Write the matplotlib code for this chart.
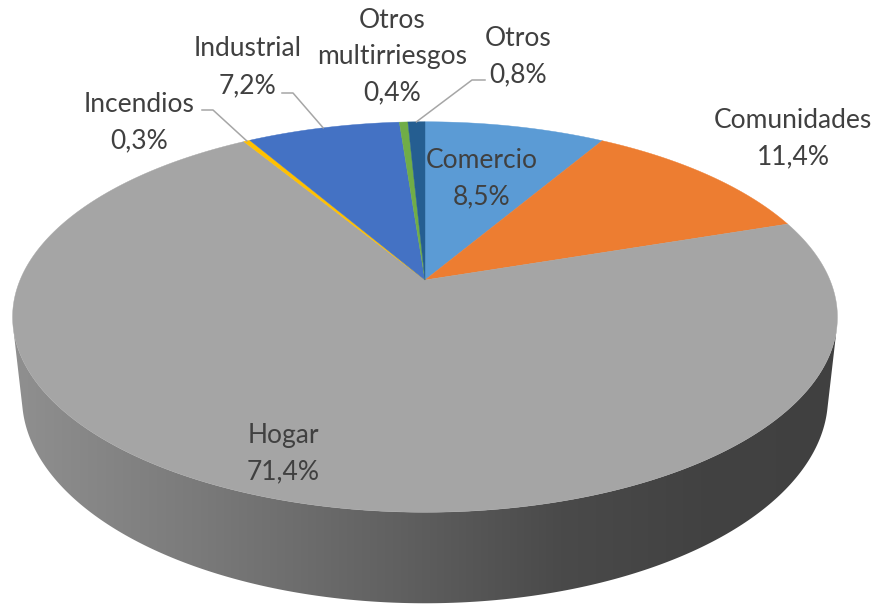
import numpy as np
import matplotlib.pyplot as plt
from matplotlib.patches import Polygon

# Data
labels = ["Comercio", "Comunidades", "Hogar", "Incendios", "Industrial",
          "Otros\nmultirriesgos", "Otros"]
shares = [8.5, 11.4, 71.4, 0.3, 7.2, 0.4, 0.8]
colors = ["#5B9BD5", "#ED7D31", "#A5A5A5", "#FFC000", "#4472C4",
          "#70AD47", "#255E91"]

# Label layout (pixels): centre of first line, and leader start/knee
label_pos = [(482, 160), (793, 120), (283, 435), (139, 104), (248, 49),
             (392, 20), (518, 38)]
leaders = {3: [(202, 110), (213, 110)],
           4: [(282, 93), (293, 93)],
           6: [(485, 80), (472, 80)]}

# Simple perspective camera
CX, CY = 425, 280
FOC = 1891.0
DIST = 4.67
ELEV = np.radians(27.7)
HEIGHT = 0.226
se, ce = np.sin(ELEV), np.cos(ELEV)


def proj(x, y, z):
    x = np.asarray(x, float)
    y = np.asarray(y, float)
    z = np.asarray(z, float) + 0 * x
    ry = y + DIST * ce
    rz = z - DIST * se
    depth = ry * ce - rz * se
    yc = ry * se + rz * ce
    return CX + FOC * x / depth, CY - FOC * yc / depth


fig = plt.figure(figsize=(8.78, 6.05), dpi=100)
ax = fig.add_axes([0, 0, 1, 1])
ax.set_xlim(0, 878)
ax.set_ylim(605, 0)
ax.axis("off")

# Side wall (only the front part is visible)
lim = np.arcsin(1 / (DIST * ce))
t = np.linspace(np.pi + lim, 2 * np.pi - lim, 300)
tx, ty = proj(np.cos(t), np.sin(t), 0)
bx, by = proj(np.cos(t), np.sin(t), -HEIGHT)
side = Polygon(np.column_stack([np.r_[tx, bx[::-1]], np.r_[ty, by[::-1]]]),
               closed=True, facecolor="none", edgecolor="none")
ax.add_patch(side)
xs = np.arange(0, 878)
shade = np.interp(xs, [10, 200, 400, 560, 700, 850],
                  [0x90, 0x7a, 0x60, 0x4a, 0x42, 0x40]) / 255
grad = np.repeat(np.stack([shade] * 3, axis=-1)[None, :, :], 2, axis=0)
img = ax.imshow(grad, extent=[0, 878, 605, 0], aspect="auto", zorder=1)
img.set_clip_path(side)

# Top face
cum = np.cumsum([0] + shares) / sum(shares) * 2 * np.pi
for i, col in enumerate(colors):
    th = np.linspace(cum[i], cum[i + 1], max(3, int(shares[i] * 8)))
    px, py = proj(np.sin(th), np.cos(th), 0)
    pts = np.column_stack([np.r_[CX, px], np.r_[CY, py]])
    ax.add_patch(Polygon(pts, closed=True, facecolor=col, edgecolor=col,
                         linewidth=0.3, zorder=2))

# Labels
for i, name in enumerate(labels):
    pct = f"{shares[i]:.1f}".replace(".", ",") + "%"
    lines = name.split("\n") + [pct]
    x0, y0 = label_pos[i]
    for k, line in enumerate(lines):
        ax.text(x0, y0 + 36.5 * k, line, ha="center", va="center",
                fontsize=19, color="#404040", family="Lato", zorder=4)
    if i in leaders:
        mid = (cum[i] + cum[i + 1]) / 2
        ex, ey = proj(np.sin(mid), np.cos(mid), 0)
        (ax0, ay0), (ax1, ay1) = leaders[i]
        ax.plot([ax0, ax1, float(ex)], [ay0, ay1, float(ey)],
                color="#A6A6A6", linewidth=1.1, zorder=3)

fig.savefig("out.png", dpi=100)
